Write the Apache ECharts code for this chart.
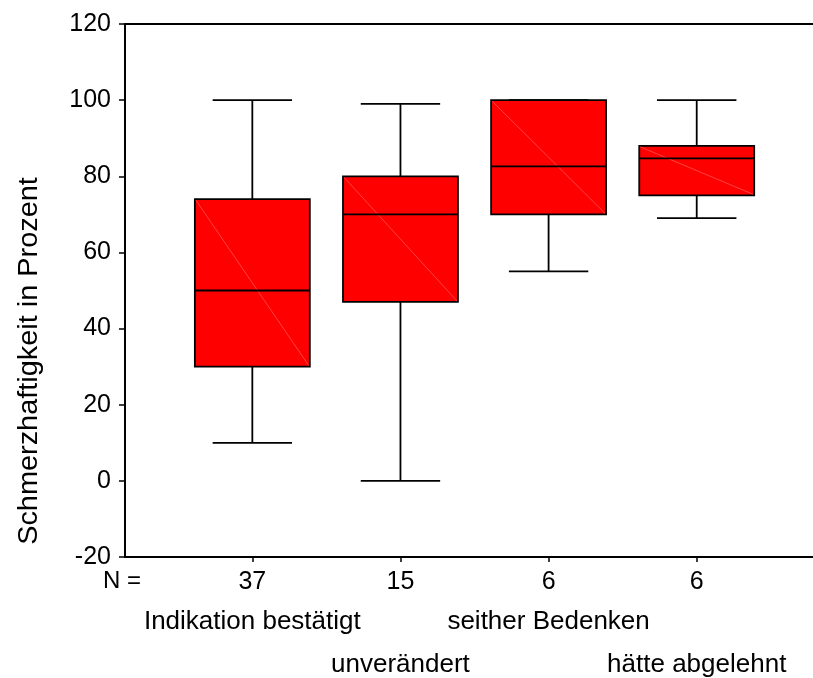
<!DOCTYPE html>
<html>
<head>
<meta charset="utf-8">
<script src="https://cdn.jsdelivr.net/npm/echarts@6/dist/echarts.min.js"></script>
<style>html,body{margin:0;padding:0;background:#fff}#c{width:813px;height:678px}</style>
</head>
<body>
<div id="c"></div>
<script>
// ---- data ----
var categories = ['Indikation bestätigt', 'unverändert', 'seither Bedenken', 'hätte abgelehnt'];
var nCounts = ['37', '15', '6', '6'];
var whiskerLow = [10, 0, 55, 69];
var q1 = [30, 47, 70, 75];
var median = [50, 70, 82.6, 84.7];
var q3 = [74, 80, 100, 88];
var whiskerHigh = [100, 99, 100, 100];
var yTicks = [-20, 0, 20, 40, 60, 80, 100, 120];
var yTitle = 'Schmerzhaftigkeit in Prozent';

var FONT = "'Liberation Sans', Arial, Helvetica, sans-serif";
var chart = echarts.init(document.getElementById('c'), null, {renderer: 'canvas'});

var positions = categories.map(function (c, i) { return i + 1; });
var oddRow = positions.filter(function (p, i) { return i % 2 === 0; });
var evenRow = positions.filter(function (p, i) { return i % 2 === 1; });
var boxData = categories.map(function (c, i) {
  return [positions[i], whiskerLow[i], q1[i], median[i], q3[i], whiskerHigh[i]];
});

var BOX_HALF = 0.388;   // half box width in category units
var CAP_HALF = 0.268;   // half whisker cap width

function renderBox(params, api) {
  var x = api.value(0);
  var pLow = api.coord([x, api.value(1)]);
  var pQ1 = api.coord([x, api.value(2)]);
  var pMed = api.coord([x, api.value(3)]);
  var pQ3 = api.coord([x, api.value(4)]);
  var pHigh = api.coord([x, api.value(5)]);
  var bl = api.coord([x - BOX_HALF, 0])[0];
  var br = api.coord([x + BOX_HALF, 0])[0];
  var cl = api.coord([x - CAP_HALF, 0])[0];
  var cr = api.coord([x + CAP_HALF, 0])[0];
  var lineStyle = {stroke: '#000', lineWidth: 1.8};
  return {
    type: 'group',
    children: [
      {type: 'line', shape: {x1: pHigh[0], y1: pHigh[1], x2: pQ3[0], y2: pQ3[1]}, style: lineStyle},
      {type: 'line', shape: {x1: pQ1[0], y1: pQ1[1], x2: pLow[0], y2: pLow[1]}, style: lineStyle},
      {type: 'line', shape: {x1: cl, y1: pHigh[1], x2: cr, y2: pHigh[1]}, style: lineStyle},
      {type: 'line', shape: {x1: cl, y1: pLow[1], x2: cr, y2: pLow[1]}, style: lineStyle},
      {type: 'rect', shape: {x: bl, y: pQ3[1], width: br - bl, height: pQ1[1] - pQ3[1]},
        style: {fill: '#ff0000', stroke: '#000', lineWidth: 1.8}},
      {type: 'line', shape: {x1: bl + 1, y1: pQ3[1] + 1, x2: br - 1, y2: pQ1[1] - 1},
        style: {stroke: 'rgba(255,140,140,0.8)', lineWidth: 0.6}},
      {type: 'line', shape: {x1: bl, y1: pMed[1], x2: br, y2: pMed[1]}, style: lineStyle}
    ]
  };
}

var xMin = 0.1404, xMax = 4.785;

function labelAxis(values, margin) {
  return {
    type: 'value', min: xMin, max: xMax, position: 'bottom',
    axisLine: {show: false}, axisTick: {show: false}, splitLine: {show: false},
    axisLabel: {
      show: true, margin: margin, customValues: values,
      showMinLabel: true, showMaxLabel: true, hideOverlap: false,
      formatter: function (v) { return categories[Math.round(v) - 1]; },
      color: '#000', fontFamily: FONT, fontSize: 26
    }
  };
}

var option = {
  animation: false,
  backgroundColor: '#fff',
  grid: {left: 125, right: 0, top: 24, bottom: 121, containLabel: false, outerBoundsMode: 'none'},
  xAxis: [{
    type: 'value', min: xMin, max: xMax, position: 'bottom',
    axisLine: {show: true, onZero: false, lineStyle: {color: '#000', width: 2}},
    axisTick: {show: true, inside: false, length: 5, customValues: positions, lineStyle: {color: '#000', width: 1.5}},
    axisLabel: {
      show: true, margin: 13, customValues: positions,
      showMinLabel: true, showMaxLabel: true, hideOverlap: false,
      formatter: function (v) { return nCounts[Math.round(v) - 1]; },
      color: '#000', fontFamily: FONT, fontSize: 25
    },
    splitLine: {show: false}
  }, {
    type: 'value', min: xMin, max: xMax, position: 'top',
    axisLine: {show: true, onZero: false, lineStyle: {color: '#000', width: 2}},
    axisTick: {show: false}, axisLabel: {show: false}, splitLine: {show: false}
  },
    labelAxis(oddRow, 52),
    labelAxis(evenRow, 95)
  ],
  yAxis: {
    type: 'value', min: yTicks[0], max: yTicks[yTicks.length - 1], interval: 20,
    axisLine: {show: true, onZero: false, lineStyle: {color: '#000', width: 2}},
    axisTick: {show: true, inside: false, length: 6, lineStyle: {color: '#000', width: 1.5}},
    axisLabel: {color: '#000', fontSize: 25, fontFamily: FONT, margin: 14},
    splitLine: {show: false}
  },
  graphic: [
    {type: 'text', left: 103, top: 569, style: {text: 'N =', fontSize: 24, fontFamily: FONT, fill: '#000'}},
    {type: 'text', x: 30, y: 361, rotation: Math.PI / 2, scaleX: 1.07,
      style: {text: yTitle, fontSize: 27, fontFamily: FONT, fill: '#000', align: 'center', verticalAlign: 'middle'}}
  ],
  series: [{
    type: 'custom',
    xAxisIndex: 0, yAxisIndex: 0,
    renderItem: renderBox,
    encode: {x: 0, y: [1, 2, 3, 4, 5]},
    data: boxData,
    clip: false
  }]
};
chart.setOption(option);
</script>
</body>
</html>
